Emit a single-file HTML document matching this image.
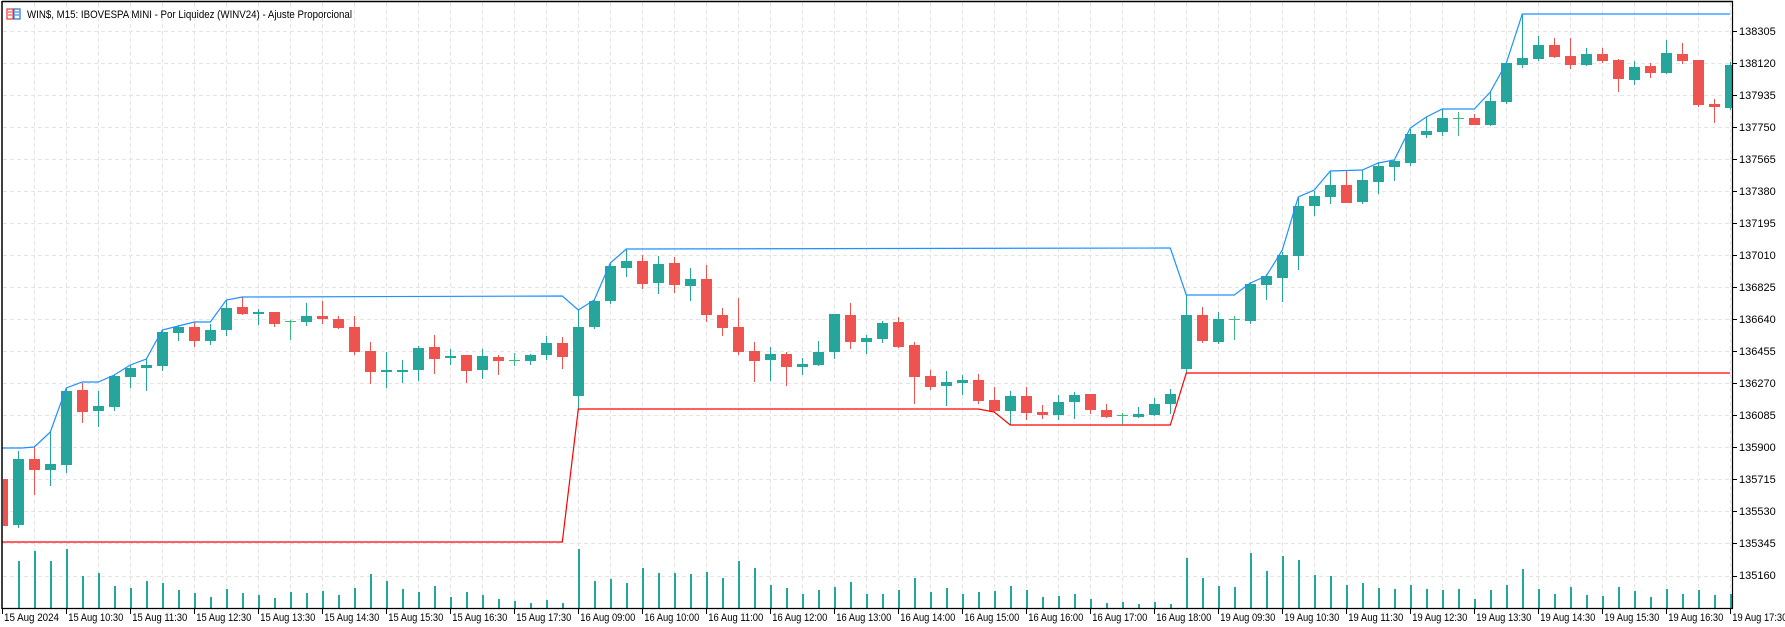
<!DOCTYPE html>
<html><head><meta charset="utf-8"><style>
html,body{margin:0;padding:0;background:#fff;width:1785px;height:627px;overflow:hidden}
svg{display:block}
text{font-family:"Liberation Sans","DejaVu Sans",sans-serif;font-size:11px;fill:#000}
</style></head><body>
<svg id="s" width="1785" height="627" viewBox="0 0 1785 627" xmlns="http://www.w3.org/2000/svg">
<g id="grid"></g>
<g id="vol"></g>
<g id="cand"></g>
<polyline fill="none" stroke="#1e90ff" stroke-width="1.2" points="2,448 22,448 34.3,447 50.3,432 66.3,388 82.3,382 98.3,382 114.3,375 130.3,365 146.3,359 162.3,330 178.3,326 194.3,322 210.3,322 226.3,300 242.3,297 562.3,296 578.3,310 594.3,300 610.3,263 626.3,249 1170.3,248 1186.3,295 1234.3,295 1250.3,283 1266.3,276 1282.3,250 1298.3,197 1314.3,190 1330.3,171 1362.3,170 1378.3,163 1394.3,160 1410.3,128 1426.3,117 1442.3,109 1474.3,109 1490.3,92 1506.3,63 1522.3,14 1730,14"/>
<polyline fill="none" stroke="#ff0000" stroke-width="1.2" points="2,542 562.3,542 578.3,409 978.3,409 994.3,412 1010.3,425 1170.3,425 1186.3,373 1730,373"/>
<line x1="2" y1="1.5" x2="1733" y2="1.5" stroke="#000" stroke-width="1.5"/>
<line x1="2" y1="1" x2="2" y2="609" stroke="#000" stroke-width="1.5"/>
<line x1="1732.5" y1="1" x2="1732.5" y2="609" stroke="#000" stroke-width="1.2"/>
<line x1="2" y1="608.5" x2="1733" y2="608.5" stroke="#000" stroke-width="1.2"/>
<g id="ticks"></g>
<rect x="7" y="9" width="6" height="10" fill="none" stroke="#e53935" stroke-width="1.2"/>
<rect x="14" y="9" width="6" height="10" fill="none" stroke="#1e6fd9" stroke-width="1.2"/>
<line x1="8" y1="12" x2="12" y2="12" stroke="#e53935"/><line x1="8" y1="15" x2="12" y2="15" stroke="#e53935"/>
<line x1="15" y1="12" x2="19" y2="12" stroke="#1e6fd9"/><line x1="15" y1="15" x2="19" y2="15" stroke="#1e6fd9"/>
<text x="27" y="18" textLength="325" lengthAdjust="spacingAndGlyphs">WIN$, M15:  IBOVESPA MINI - Por Liquidez (WINV24) - Ajuste Proporcional</text>
<g id="plabels">
<text x="1739" y="35">138305</text><text x="1739" y="67">138120</text><text x="1739" y="99">137935</text><text x="1739" y="131">137750</text>
<text x="1739" y="163">137565</text><text x="1739" y="195">137380</text><text x="1739" y="227">137195</text><text x="1739" y="259">137010</text>
<text x="1739" y="291">136825</text><text x="1739" y="323">136640</text><text x="1739" y="355">136455</text><text x="1739" y="387">136270</text>
<text x="1739" y="419">136085</text><text x="1739" y="451">135900</text><text x="1739" y="483">135715</text><text x="1739" y="515">135530</text>
<text x="1739" y="547">135345</text><text x="1739" y="579">135160</text>
</g>
<g id="dlabels">
<text x="4" y="621" textLength="55" lengthAdjust="spacingAndGlyphs">15 Aug 2024</text>
<text x="68.3" y="621" textLength="55" lengthAdjust="spacingAndGlyphs">15 Aug 10:30</text>
<text x="132.3" y="621" textLength="55" lengthAdjust="spacingAndGlyphs">15 Aug 11:30</text>
<text x="196.3" y="621" textLength="55" lengthAdjust="spacingAndGlyphs">15 Aug 12:30</text>
<text x="260.3" y="621" textLength="55" lengthAdjust="spacingAndGlyphs">15 Aug 13:30</text>
<text x="324.3" y="621" textLength="55" lengthAdjust="spacingAndGlyphs">15 Aug 14:30</text>
<text x="388.3" y="621" textLength="55" lengthAdjust="spacingAndGlyphs">15 Aug 15:30</text>
<text x="452.3" y="621" textLength="55" lengthAdjust="spacingAndGlyphs">15 Aug 16:30</text>
<text x="516.3" y="621" textLength="55" lengthAdjust="spacingAndGlyphs">15 Aug 17:30</text>
<text x="580.3" y="621" textLength="55" lengthAdjust="spacingAndGlyphs">16 Aug 09:00</text>
<text x="644.3" y="621" textLength="55" lengthAdjust="spacingAndGlyphs">16 Aug 10:00</text>
<text x="708.3" y="621" textLength="55" lengthAdjust="spacingAndGlyphs">16 Aug 11:00</text>
<text x="772.3" y="621" textLength="55" lengthAdjust="spacingAndGlyphs">16 Aug 12:00</text>
<text x="836.3" y="621" textLength="55" lengthAdjust="spacingAndGlyphs">16 Aug 13:00</text>
<text x="900.3" y="621" textLength="55" lengthAdjust="spacingAndGlyphs">16 Aug 14:00</text>
<text x="964.3" y="621" textLength="55" lengthAdjust="spacingAndGlyphs">16 Aug 15:00</text>
<text x="1028.3" y="621" textLength="55" lengthAdjust="spacingAndGlyphs">16 Aug 16:00</text>
<text x="1092.3" y="621" textLength="55" lengthAdjust="spacingAndGlyphs">16 Aug 17:00</text>
<text x="1156.3" y="621" textLength="55" lengthAdjust="spacingAndGlyphs">16 Aug 18:00</text>
<text x="1220.3" y="621" textLength="55" lengthAdjust="spacingAndGlyphs">19 Aug 09:30</text>
<text x="1284.3" y="621" textLength="55" lengthAdjust="spacingAndGlyphs">19 Aug 10:30</text>
<text x="1348.3" y="621" textLength="55" lengthAdjust="spacingAndGlyphs">19 Aug 11:30</text>
<text x="1412.3" y="621" textLength="55" lengthAdjust="spacingAndGlyphs">19 Aug 12:30</text>
<text x="1476.3" y="621" textLength="55" lengthAdjust="spacingAndGlyphs">19 Aug 13:30</text>
<text x="1540.3" y="621" textLength="55" lengthAdjust="spacingAndGlyphs">19 Aug 14:30</text>
<text x="1604.3" y="621" textLength="55" lengthAdjust="spacingAndGlyphs">19 Aug 15:30</text>
<text x="1668.3" y="621" textLength="55" lengthAdjust="spacingAndGlyphs">19 Aug 16:30</text>
<text x="1732.3" y="621" textLength="55" lengthAdjust="spacingAndGlyphs">19 Aug 17:30</text>
</g>
</svg>
<script>
(function(){
var NS="http://www.w3.org/2000/svg";
function el(p,t,a){var e=document.createElementNS(NS,t);for(var k in a)e.setAttribute(k,a[k]);p.appendChild(e);return e;}
var grid=document.getElementById('grid'),vol=document.getElementById('vol'),cand=document.getElementById('cand'),ticks=document.getElementById('ticks');
for(var k=0;k<18;k++){var y=Math.round(31+32.03*k)+0.5;el(grid,'line',{x1:3,y1:y,x2:1732,y2:y,stroke:'#e4e4e4','stroke-dasharray':'4,3'});
 el(ticks,'line',{x1:1732,y1:y,x2:1737,y2:y,stroke:'#000'});}
for(var i=2;i<=108;i+=2){var x=Math.round(2.3+16*i)+0.5;el(grid,'line',{x1:x,y1:3,x2:x,y2:608,stroke:'#e4e4e4','stroke-dasharray':'4,3'});}
for(var i=0;i<=108;i+=4){var x=Math.round(2.3+16*i)+0.5;el(ticks,'line',{x1:x,y1:608,x2:x,y2:614,stroke:'#000'});}
var C=[
['r',479,526,479,526],['g',459,525,451,528],['r',459,470,447,495],['g',464,470,432,486],['g',391,465,388,473],
['r',390,412,383,423],['g',406,411,391,427],['g',376,407,375,411],['g',368,377,365,388],['g',365,368,359,391],
['g',332,366,330,371],['g',327,333,325,341],['r',327,341,322,347],['g',330,341,324,345],['g',308,330,300,336],
['r',307,314,297,315],['g',312,314,309,325],['r',312,324,312,327],['d',321,322,320,340],['g',316,322,303,326],
['r',316,319,301,324],['r',319,328,316,329],['r',327,352,316,355],['r',351,372,342,384],['g',370,372,352,388],
['g',370,372,360,383],['g',348,370,346,381],['r',347,359,335,374],['g',356,358,349,365],['r',355,371,355,383],
['g',356,370,349,379],['r',357,361,355,375],['d',360,361,353,366],['g',355,361,354,365],['g',343,355,336,360],
['r',343,357,337,369],['g',327,396,309,410],['g',301,327,299,329],['g',266,301,263,304],['g',261,268,249,277],
['r',261,284,255,289],['g',264,283,256,294],['r',263,285,257,293],['g',279,286,268,301],['r',279,315,265,322],
['r',315,328,308,336],['r',327,352,298,355],['r',351,361,342,382],['g',354,360,347,381],['r',354,367,352,386],
['g',364,367,358,375],['g',352,365,341,366],['g',314,352,314,359],['r',315,342,303,349],['g',338,342,335,354],
['g',323,339,321,343],['r',322,347,317,348],['r',345,377,342,404],['r',376,387,370,390],['g',382,386,371,406],
['g',380,383,375,395],['r',380,401,374,404],['r',400,411,387,412],['g',396,411,391,425],['r',396,413,387,420],
['r',412,415,405,419],['g',402,415,395,420],['g',395,402,392,419],['r',394,410,394,414],['r',410,417,404,418],
['d',415,416,413,424],['g',414,417,407,418],['g',404,415,398,416],['g',394,404,389,414],['g',315,369,295,374],
['r',315,341,307,343],['g',319,342,312,344],['d',319,320,316,340],['g',284,321,282,324],['g',276,285,274,300],
['g',255,278,252,302],['g',206,256,197,270],['g',196,206,191,216],['g',185,197,171,204],['r',185,203,170,203],
['g',180,202,170,204],['g',166,182,162,194],['g',161,167,159,181],['g',134,163,129,166],['g',131,135,117,138],
['g',118,132,109,136],['d',118,119,112,136],['r',118,125,114,125],['g',101,125,92,126],['g',63,102,62,104],
['g',58,65,14,68],['g',45,59,36,61],['r',45,57,38,58],['r',56,65,38,69],['g',54,65,48,66],
['r',54,61,48,63],['r',60,79,59,92],['g',67,80,61,85],['r',66,73,63,78],['g',53,73,40,74],
['r',54,61,43,64],['r',60,105,60,107],['r',104,107,99,123],['g',65,108,62,110]];
var col={g:'#26a69a',r:'#ef5350',d:'#3dba7e'};
var V=[608,561,551,561,549,576,573,586,588,581,583,590,593,597,589,593,595,598,592,593,591,595,588,574,581,589,592,586,597,592,595,599,601,603,600,603,549,581,579,583,568,573,573,574,
572,578,561,568,585,588,594,590,587,582,594,594,590,578,592,588,594,592,591,586,590,597,596,594,599,603,602,604,602,604,558,578,586,587,553,571,556,560,575,576,585,583,588,589,585,589,590,589,599,
590,585,569,589,594,587,595,596,587,591,597,589,594,590,595,594];
for(var i=0;i<C.length;i++){
 var c=C[i],cx=Math.round(2.3+16*i),f=col[c[0]];
 var xl=Math.max(3,cx-5),xr=Math.min(1732,cx+6);
 if(cx>=3&&cx<1732)el(cand,'rect',{x:cx,y:c[3],width:1,height:c[4]-c[3],fill:f});
 if(c[0]=='d'){el(cand,'rect',{x:xl,y:c[1],width:xr-xl,height:1,fill:f});}
 else el(cand,'rect',{x:xl,y:c[1],width:xr-xl,height:Math.max(1,c[2]-c[1]),fill:f});
 if(i<V.length&&V[i]<608)el(vol,'rect',{x:cx,y:V[i],width:2,height:608-V[i],fill:'#26a69a'});
}
})();
</script>
</body></html>
